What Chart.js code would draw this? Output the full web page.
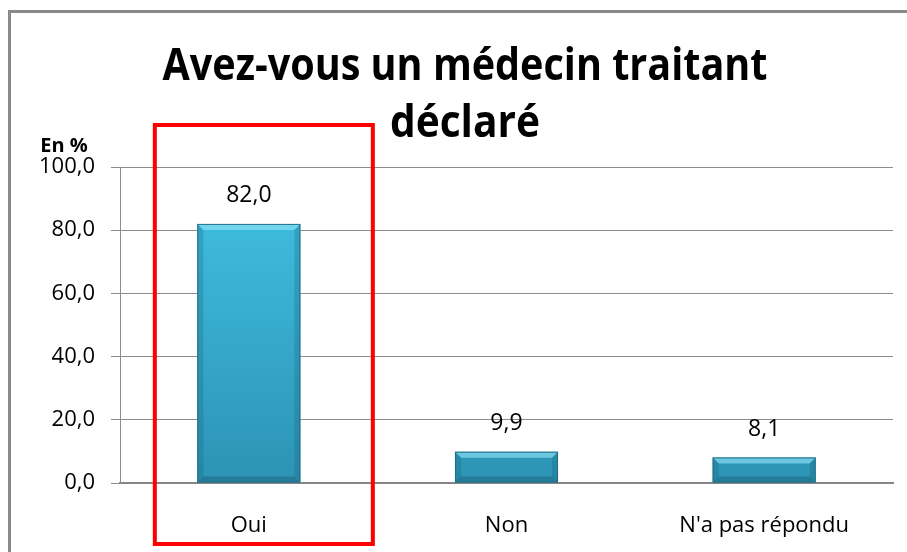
<!DOCTYPE html>
<html>
<head>
<meta charset="utf-8">
<script src="https://cdn.jsdelivr.net/npm/chart.js@4"></script>
<style>
  html, body { margin: 0; padding: 0; background: #fff; }
  #wrap { width: 907px; height: 552px; position: relative; }
</style>
</head>
<body>
<div id="wrap"><canvas id="myChart"></canvas></div>
<script>
const categories = ['Oui', 'Non', "N'a pas répondu"];
const values = [82.0, 9.9, 8.1];
const titleLines = ['Avez-vous un médecin traitant', 'déclaré'];
const unitLabel = 'En %';

const FONT = "'Open Sans', 'Noto Sans', sans-serif";

function fmt(v) {
    return v.toFixed(1).replace('.', ',');
}

// frame, title, unit label, red highlight box
const decorations = {
    id: 'decorations',
    beforeDraw(chart) {
        const ctx = chart.ctx;
        ctx.save();
        ctx.strokeStyle = '#8a8a8a';
        ctx.lineWidth = 3;
        ctx.beginPath();
        ctx.moveTo(9.5, 552);
        ctx.lineTo(9.5, 11.5);
        ctx.lineTo(907, 11.5);
        ctx.stroke();

        ctx.fillStyle = '#000';
        ctx.textAlign = 'center';
        ctx.textBaseline = 'alphabetic';
        ctx.font = 'bold 44px ' + FONT;
        const baselines = [80, 137];
        titleLines.forEach((line, i) => {
            const w = ctx.measureText(line).width;
            const target = i === 0 ? 605 : 150;
            const sx = Math.min(1, target / w);
            ctx.save();
            ctx.translate(465, baselines[i]);
            ctx.scale(sx, 1);
            ctx.fillText(line, 0, 0);
            ctx.restore();
        });

        ctx.font = 'bold 20px ' + FONT;
        ctx.fillText(unitLabel, 64, 152);
        ctx.restore();
    },
    afterDatasetsDraw(chart) {
        const ctx = chart.ctx;
        const meta = chart.getDatasetMeta(0);
        ctx.save();
        meta.data.forEach((bar, i) => {
            const x0 = bar.x - bar.width / 2;
            const x1 = bar.x + bar.width / 2;
            const top = bar.y;
            const bot = bar.base;
            const e = Math.min(6, (bot - top) / 3);
            // top light bevel
            ctx.fillStyle = 'rgba(150,230,248,0.6)';
            ctx.beginPath();
            ctx.moveTo(x0, top);
            ctx.lineTo(x1, top);
            ctx.lineTo(x1 - e, top + e);
            ctx.lineTo(x0 + e, top + e);
            ctx.closePath();
            ctx.fill();
            // side bevels
            ctx.fillStyle = 'rgba(20,90,115,0.25)';
            ctx.beginPath();
            ctx.moveTo(x0, top);
            ctx.lineTo(x0 + e, top + e);
            ctx.lineTo(x0 + e, bot - e);
            ctx.lineTo(x0, bot);
            ctx.closePath();
            ctx.fill();
            ctx.beginPath();
            ctx.moveTo(x1, top);
            ctx.lineTo(x1 - e, top + e);
            ctx.lineTo(x1 - e, bot - e);
            ctx.lineTo(x1, bot);
            ctx.closePath();
            ctx.fill();
            // bottom bevel
            ctx.fillStyle = 'rgba(15,70,90,0.3)';
            ctx.beginPath();
            ctx.moveTo(x0, bot);
            ctx.lineTo(x0 + e, bot - e);
            ctx.lineTo(x1 - e, bot - e);
            ctx.lineTo(x1, bot);
            ctx.closePath();
            ctx.fill();
            // edge
            ctx.strokeStyle = '#226f86';
            ctx.lineWidth = 1;
            ctx.strokeRect(x0 + 0.5, top + 0.5, bar.width - 1, bot - top - 1);

            // value label
            ctx.fillStyle = '#000';
            ctx.font = '23px ' + FONT;
            ctx.textAlign = 'center';
            ctx.textBaseline = 'middle';
            ctx.fillText(fmt(values[i]), bar.x, top - 28);
        });
        ctx.restore();
    },
    afterDraw(chart) {
        const ctx = chart.ctx;
        const cx = chart.scales.x.getPixelForValue(0);
        ctx.save();
        ctx.strokeStyle = '#ff0000';
        ctx.lineWidth = 4;
        ctx.strokeRect(cx - 94, 125, 218, 419);
        ctx.restore();
    }
};

const ctx = document.getElementById('myChart').getContext('2d');

new Chart(ctx, {
    type: 'bar',
    data: {
        labels: categories,
        datasets: [{
            data: values,
            backgroundColor: function(context) {
                const area = context.chart.chartArea;
                if (!area) return '#35aed2';
                const g = context.chart.ctx.createLinearGradient(0, area.top, 0, area.bottom);
                g.addColorStop(0, '#42c3e6');
                g.addColorStop(1, '#2c93b4');
                return g;
            },
            borderWidth: 0,
            barPercentage: 0.4,
            categoryPercentage: 1.0
        }]
    },
    options: {
        responsive: true,
        maintainAspectRatio: false,
        animation: false,
        layout: {
            padding: { top: 167, right: 14, bottom: 0, left: 0 }
        },
        plugins: {
            legend: { display: false },
            title: { display: false },
            tooltip: { enabled: false }
        },
        scales: {
            x: {
                afterFit(scale) { scale.height = 69; },
                grid: { display: false, drawTicks: false },
                border: { display: true, color: '#868686', width: 2 },
                ticks: {
                    color: '#000',
                    font: { family: FONT, size: 22 },
                    padding: 30
                }
            },
            y: {
                min: 0,
                max: 100,
                afterFit(scale) { scale.width = 120; },
                grid: { color: '#8c8c8c', lineWidth: 1, tickLength: 9 },
                border: { display: true, color: '#8c8c8c', width: 1 },
                ticks: {
                    stepSize: 20,
                    color: '#000',
                    padding: 16,
                    font: { family: FONT, size: 22 },
                    callback: v => fmt(v)
                }
            }
        }
    },
    plugins: [decorations]
});
</script>
</body>
</html>
